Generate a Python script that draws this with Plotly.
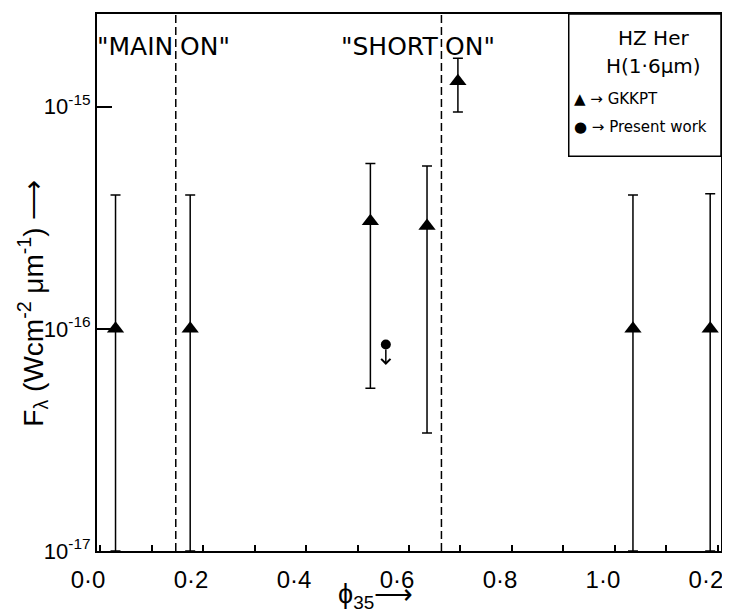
import numpy as np
import plotly.graph_objects as go

# ---------------- data ----------------
gkkpt_phase = [0.03, 0.175, 0.525, 0.635, 0.695, 1.035, 1.185]
gkkpt_flux = [1.0e-16, 1.0e-16, 3.05e-16, 2.9e-16, 1.3e-15, 1.0e-16, 1.0e-16]
gkkpt_flux_hi = [4.0e-16, 4.0e-16, 5.55e-16, 5.4e-16, 1.65e-15, 4.0e-16, 4.05e-16]
gkkpt_flux_lo = [1.0e-17, 1.0e-17, 5.4e-17, 3.4e-17, 9.45e-16, 1.0e-17, 1.0e-17]

present_phase = [0.555]
present_flux_limit = [8.5e-17]

boundary_phases = [0.147, 0.663]

x_tickvals = [0.0, 0.2, 0.4, 0.6, 0.8, 1.0, 1.2]
x_ticktext = ["0·0", "0·2", "0·4", "0·6", "0·8", "1·0", "0·2"]
x_minorvals = [0.1, 0.3, 0.5, 0.7, 0.9, 1.1]
y_tickvals = [1e-17, 1e-16, 1e-15]
y_ticktext = ["10<sup>-17</sup>", "10<sup>-16</sup>", "10<sup>-15</sup>"]

FONT = "Liberation Sans"
FONT2 = "DejaVu Sans"

err_plus = [h - f for h, f in zip(gkkpt_flux_hi, gkkpt_flux)]
err_minus = [f - l for f, l in zip(gkkpt_flux, gkkpt_flux_lo)]

fig = go.Figure()
fig.add_trace(go.Scatter(
    x=gkkpt_phase, y=gkkpt_flux, mode="markers", name="GKKPT",
    marker=dict(symbol="triangle-up", size=15, color="black"),
    error_y=dict(type="data", symmetric=False, array=err_plus, arrayminus=err_minus,
                 color="black", thickness=1.5, width=5),
    showlegend=False,
))
fig.add_trace(go.Scatter(
    x=present_phase, y=present_flux_limit, mode="markers", name="Present work",
    marker=dict(symbol="circle", size=10, color="black"),
    showlegend=False,
))

# upper-limit arrows
for xp, yp in zip(present_phase, present_flux_limit):
    fig.add_annotation(x=xp, y=np.log10(yp), xref="x", yref="y", text="",
                       showarrow=True, ax=0, ay=22, arrowside="start",
                       startarrowhead=4, startarrowsize=1.2, arrowwidth=1.5,
                       arrowcolor="black", standoff=5)

# phase boundaries
for bp in boundary_phases:
    fig.add_shape(type="line", x0=bp, x1=bp, y0=0, y1=1, xref="x", yref="paper",
                  line=dict(color="black", width=1.5, dash="8px,4px"))

# region labels
label_font = dict(family=FONT2, size=25, color="black")
for bp, left_txt in zip(boundary_phases, ['"MAIN', '"SHORT']):
    fig.add_annotation(x=bp, y=0.939, xref="x", yref="paper", text=left_txt,
                       showarrow=False, xanchor="right", yanchor="middle", xshift=-1, font=label_font)
    fig.add_annotation(x=bp, y=0.939, xref="x", yref="paper", text='ON"',
                       showarrow=False, xanchor="left", yanchor="middle", xshift=2, font=label_font)

# legend box
fig.add_shape(type="rect", xref="paper", yref="paper", x0=0.756, x1=1.0, y0=0.735, y1=1.0,
              line=dict(color="black", width=1.5), fillcolor="white")
fig.add_annotation(xref="paper", yref="paper", x=0.892, y=0.955, text="HZ Her",
                   xanchor="center", yanchor="middle",
                   showarrow=False, font=dict(family=FONT2, size=20, color="black"))
fig.add_annotation(xref="paper", yref="paper", x=0.892, y=0.903, text="H(1·6μm)",
                   xanchor="center", yanchor="middle",
                   showarrow=False, font=dict(family=FONT2, size=20, color="black"))
fig.add_annotation(xref="paper", yref="paper", x=0.762, y=0.842, text="▲ → GKKPT",
                   showarrow=False, xanchor="left", yanchor="middle",
                   font=dict(family=FONT2, size=15, color="black"))
fig.add_annotation(xref="paper", yref="paper", x=0.762, y=0.789, text="● → Present work",
                   showarrow=False, xanchor="left", yanchor="middle",
                   font=dict(family=FONT2, size=15, color="black"))

# axis titles
fig.add_annotation(xref="paper", yref="paper", x=-0.103, y=0.462,
                   text="F<sub>λ</sub> (Wcm<sup>-2</sup> μm<sup>-1</sup>) ⟶",
                   xanchor="center", yanchor="middle",
                   textangle=-90, showarrow=False, font=dict(family=FONT, size=28, color="black"))
fig.add_annotation(xref="paper", yref="paper", x=0.447, y=-0.084, text="ϕ<sub>35</sub>⟶",
                   xanchor="center", yanchor="middle",
                   showarrow=False, font=dict(family=FONT, size=27, color="black"))

fig.update_xaxes(range=[-0.006, 1.206], tickmode="array", tickvals=x_tickvals, ticktext=x_ticktext,
                 ticks="inside", ticklen=6, tickwidth=1.5, tickcolor="black", ticklabelstandoff=6,
                 ticklabelshift=-12,
                 minor=dict(tickmode="array", tickvals=x_minorvals, ticks="inside", ticklen=6,
                            tickwidth=1.5, tickcolor="black"),
                 showline=True, linecolor="black", linewidth=2, mirror=True, showgrid=False,
                 zeroline=False, tickfont=dict(family=FONT, size=24, color="black"))
fig.update_yaxes(type="log", range=[-17, -14.583], tickmode="array", tickvals=y_tickvals,
                 ticktext=y_ticktext, ticks="inside", ticklen=15, tickwidth=1.5, tickcolor="black",
                 showline=True, linecolor="black", linewidth=2, mirror=True, showgrid=False,
                 zeroline=False, tickfont=dict(family=FONT, size=22, color="black"))

fig.update_layout(width=730, height=616, margin=dict(l=89, r=17, t=4, b=73),
                  paper_bgcolor="white", plot_bgcolor="white", showlegend=False)

fig.write_html("out.html")
